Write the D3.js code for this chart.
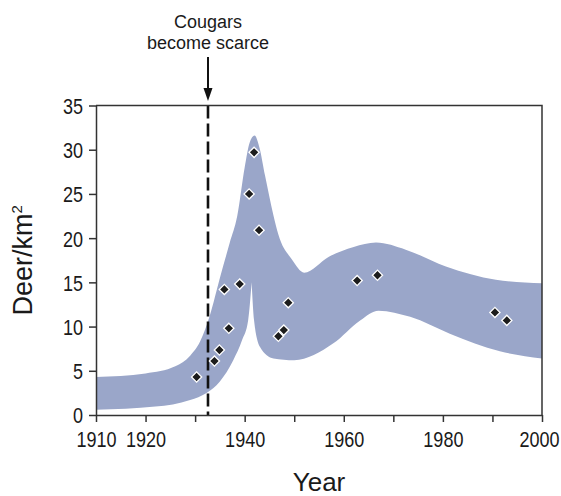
<!DOCTYPE html>
<meta charset="utf-8">
<style>
  body { margin: 0; background: #fff; }
  svg text { font-family: "Liberation Sans", Arial, sans-serif; fill: #1a1a1a; }
  .axis path, .axis line { stroke: #333; stroke-width: 1.5; }
</style>
<body>
<div id="chart"></div>
<script src="https://d3js.org/d3.v7.min.js"></script>
<script>

// deer density survey points
var obsYears = [1930.3, 1933.9, 1934.9, 1936.8, 1935.9, 1939.0, 1940.9, 1941.9, 1942.9, 1946.8, 1947.9, 1948.8, 1962.7, 1966.8, 1990.5, 1992.9];
var obsDeer  = [4.3, 6.1, 7.35, 9.8, 14.2, 14.8, 25.0, 29.7, 20.9, 8.9, 9.6, 12.7, 15.2, 15.8, 11.6, 10.7];

// shaded range - top edge
var upperYears = [1910, 1920, 1926, 1929, 1931, 1933, 1935, 1937, 1938.5, 1940, 1941, 1942, 1943, 1944.1, 1945.8, 1946.8, 1949.5, 1952, 1957, 1962, 1966.5, 1972.5, 1980.6, 1990.7, 2000];
var upperDeer  = [4.3, 4.7, 5.5, 6.7, 8.3, 11.3, 15.5, 19.5, 22.5, 28, 30.8, 31.6, 30.2, 27.1, 22.6, 20.4, 17.6, 16.1, 17.9, 19.0, 19.5, 18.7, 16.8, 15.3, 14.9];

// bottom edge, split at the notch around 1941
var lowerLeftYears  = [1910, 1922, 1929, 1932.3, 1935, 1937.7, 1939.5, 1940.7, 1941.4];
var lowerLeftDeer   = [0.6, 0.95, 1.7, 2.5, 3.8, 6.2, 8.5, 10.7, 15.0];
var lowerRightYears = [1941.4, 1941.9, 1943.1, 1945.8, 1950, 1957.9, 1963.3, 1967, 1973.4, 1981.4, 1991.5, 2000];
var lowerRightDeer  = [15.0, 10.7, 7.7, 6.4, 6.2, 8.1, 10.7, 11.8, 11.1, 9.2, 7.2, 6.4];

var yTicks = [0, 5, 10, 15, 20, 25, 30, 35];
var xTicks = [1910, 1920, 1930, 1940, 1950, 1960, 1970, 1980, 1990, 2000];
var xLabels = [1910, 1920, 1940, 1960, 1980, 2000];
var scarceYear = 1932.6;

var width = 561, height = 496;
var margin = {top: 105.5, right: 19, bottom: 81, left: 96};
var squeeze = 0.82; // tick labels in the original are a condensed face

var svg = d3.select("#chart").append("svg")
    .attr("width", width)
    .attr("height", height);

var x = d3.scaleLinear().domain([1910, 2000]).range([margin.left, width - margin.right]);
var y = d3.scaleLinear().domain([0, 35]).range([height - margin.bottom, margin.top]);

function pts(xs, ys) { return xs.map(function(v, i) { return [v, ys[i]]; }); }

var edge = d3.line()
    .x(function(d) { return x(d[0]); })
    .y(function(d) { return y(d[1]); })
    .curve(d3.curveMonotoneX);

var bandPath = edge(pts(upperYears, upperDeer))
  + edge(pts(lowerRightYears, lowerRightDeer).reverse()).replace(/^M/, "L")
  + edge(pts(lowerLeftYears, lowerLeftDeer).reverse()).replace(/^M/, "L")
  + "Z";

svg.append("path")
    .attr("d", bandPath)
    .attr("fill", "#9aa6c9");

// dashed line where cougars disappear
svg.append("line")
    .attr("x1", x(scarceYear)).attr("x2", x(scarceYear))
    .attr("y1", y(35)).attr("y2", y(0))
    .attr("stroke", "#111")
    .attr("stroke-width", 2.6)
    .attr("stroke-dasharray", "13,5");

// axes + frame
var xAxis = svg.append("g")
    .attr("class", "axis")
    .attr("transform", "translate(0," + y(0) + ")")
    .call(d3.axisBottom(x).tickValues(xTicks).tickSize(7).tickSizeOuter(0)
      .tickFormat(function(d) { return xLabels.indexOf(d) >= 0 ? d : ""; }));
xAxis.selectAll("text")
    .attr("font-size", 22)
    .attr("dy", "1.0em")
    .attr("transform", "scale(" + squeeze + ",1)");
// keep the last label inside the window
xAxis.selectAll(".tick text").filter(function(d) { return d === 2000; })
    .attr("text-anchor", "end")
    .attr("x", (margin.right - 2) / squeeze);

var yAxis = svg.append("g")
    .attr("class", "axis")
    .attr("transform", "translate(" + x(1910) + ",0)")
    .call(d3.axisLeft(y).tickValues(yTicks).tickSize(7).tickSizeOuter(0));
yAxis.selectAll("text")
    .attr("font-size", 22)
    .attr("dy", "0.36em")
    .attr("x", -13 / squeeze)
    .attr("transform", "scale(" + squeeze + ",1)");
svg.selectAll(".axis text").attr("font-family", null).attr("fill", null);

svg.append("path")
    .attr("d", "M" + x(1910) + "," + y(35) + "H" + x(2000) + "V" + y(0))
    .attr("fill", "none")
    .attr("stroke", "#333")
    .attr("stroke-width", 1.5);

// survey points as diamonds
svg.append("g").selectAll("path")
    .data(pts(obsYears, obsDeer))
  .enter().append("path")
    .attr("d", d3.symbol().type(d3.symbolSquare).size(52))
    .attr("transform", function(d) { return "translate(" + x(d[0]) + "," + y(d[1]) + ") rotate(45)"; })
    .attr("fill", "#1c1c1c")
    .attr("stroke", "#fff")
    .attr("stroke-width", 1.3);

// annotation
var ax = x(scarceYear);
svg.append("line")
    .attr("x1", ax).attr("x2", ax)
    .attr("y1", 57).attr("y2", 90)
    .attr("stroke", "#111")
    .attr("stroke-width", 2);
svg.append("path")
    .attr("d", "M" + (ax - 4.5) + ",88L" + (ax + 4.5) + ",88L" + ax + ",101Z")
    .attr("fill", "#111");

var note = svg.append("text")
    .attr("text-anchor", "middle")
    .attr("font-size", 18);
note.append("tspan").attr("x", ax).attr("y", 28).text("Cougars");
note.append("tspan").attr("x", ax).attr("y", 49).text("become scarce");

// axis titles
svg.append("text")
    .attr("x", x(1955))
    .attr("y", 491)
    .attr("text-anchor", "middle")
    .attr("font-size", 26)
    .text("Year");

var yt = svg.append("text")
    .attr("transform", "translate(32," + y(17.5) + ") rotate(-90)")
    .attr("text-anchor", "middle")
    .attr("font-size", 27);
yt.append("tspan").text("Deer/km");
yt.append("tspan").attr("font-size", 15).attr("dy", "-0.7em").text("2");

</script>
</body>
